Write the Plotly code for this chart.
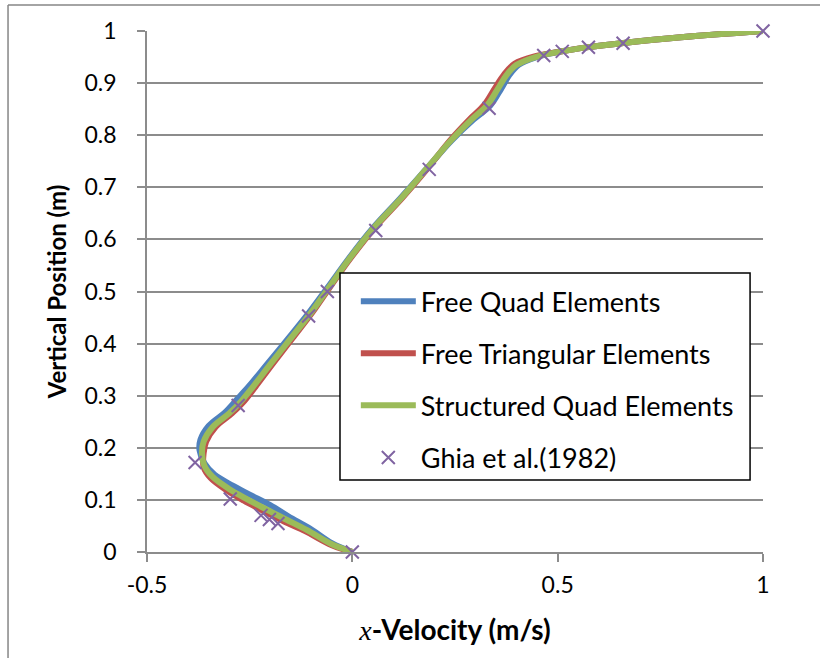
import plotly.graph_objects as go

# Vertical-centreline x-velocity profiles (lid-driven cavity)
free_quad_u = [0.0, -0.05, -0.105, -0.155, -0.20, -0.25, -0.29, -0.335, -0.36, -0.372,
               -0.37, -0.35, -0.31, -0.282, -0.252, -0.208, -0.156, -0.105, -0.058, -0.012,
               0.048, 0.118, 0.18, 0.242, 0.295, 0.336, 0.363, 0.382, 0.405, 0.452,
               0.51, 0.575, 0.66, 0.80, 1.0]
free_quad_y = [0.0, 0.017, 0.046, 0.068, 0.090, 0.110, 0.127, 0.148, 0.17, 0.195,
               0.215, 0.242, 0.268, 0.292, 0.318, 0.36, 0.41, 0.46, 0.51, 0.56,
               0.62, 0.68, 0.735, 0.79, 0.83, 0.857, 0.89, 0.915, 0.935, 0.951,
               0.961, 0.969, 0.977, 0.988, 1.0]

free_tri_u = [0.0, -0.05, -0.115, -0.165, -0.215, -0.265, -0.305, -0.345, -0.362, -0.362,
              -0.356, -0.333, -0.293, -0.263, -0.236, -0.195, -0.146, -0.097, -0.053, -0.008,
              0.052, 0.122, 0.182, 0.238, 0.285, 0.32, 0.347, 0.368, 0.395, 0.448,
              0.51, 0.575, 0.66, 0.80, 1.0]
free_tri_y = [0.0, 0.013, 0.040, 0.058, 0.078, 0.099, 0.118, 0.142, 0.163, 0.19,
              0.212, 0.24, 0.266, 0.29, 0.317, 0.36, 0.41, 0.46, 0.51, 0.56,
              0.62, 0.68, 0.735, 0.79, 0.83, 0.857, 0.89, 0.915, 0.937, 0.952,
              0.961, 0.969, 0.977, 0.988, 1.0]

struct_quad_u = [0.0, -0.05, -0.11, -0.16, -0.21, -0.26, -0.30, -0.34, -0.36, -0.366,
                 -0.362, -0.34, -0.30, -0.27, -0.242, -0.20, -0.15, -0.10, -0.055, -0.01,
                 0.05, 0.12, 0.18, 0.24, 0.29, 0.328, 0.355, 0.375, 0.40, 0.45,
                 0.51, 0.575, 0.66, 0.80, 1.0]
struct_quad_y = [0.0, 0.015, 0.042, 0.062, 0.082, 0.103, 0.121, 0.144, 0.165, 0.19,
                 0.212, 0.24, 0.266, 0.29, 0.317, 0.36, 0.41, 0.46, 0.51, 0.56,
                 0.62, 0.68, 0.735, 0.79, 0.83, 0.857, 0.89, 0.915, 0.935, 0.951,
                 0.961, 0.969, 0.977, 0.988, 1.0]

# Ghia, Ghia & Shin (1982) benchmark points
ghia_u = [1.0, 0.65928, 0.57492, 0.51117, 0.46604, 0.33304, 0.18719, 0.05702, -0.06080,
          -0.10648, -0.27805, -0.38289, -0.29730, -0.22220, -0.20196, -0.18109, 0.0]
ghia_y = [1.0, 0.9766, 0.9688, 0.9609, 0.9531, 0.8516, 0.7344, 0.6172, 0.5000,
          0.4531, 0.2813, 0.1719, 0.1016, 0.0703, 0.0625, 0.0547, 0.0]

x_ticks = [-0.5, 0, 0.5, 1]
y_ticks = [0, 0.1, 0.2, 0.3, 0.4, 0.5, 0.6, 0.7, 0.8, 0.9, 1]

FONT = "Lato"
GRID = "#8c8c8c"

fig = go.Figure()

series = [
    ("Free Quad Elements", free_quad_u, free_quad_y, "#4F81BD"),
    ("Free Triangular Elements", free_tri_u, free_tri_y, "#C0504D"),
    ("Structured Quad Elements", struct_quad_u, struct_quad_y, "#9BBB59"),
]
for name, u, y, color in series:
    fig.add_trace(go.Scatter(
        x=u, y=y, mode="lines", name=name, legendgroup=name,
        line=dict(color=color, width=6, shape="spline", smoothing=1.0),
    ))

fig.add_trace(go.Scatter(
    x=ghia_u, y=ghia_y, mode="markers", name="Ghia et al.(1982)", legendgroup="ghia",
    marker=dict(symbol="x-thin", size=13, line=dict(color="#8064A2", width=2)),
    cliponaxis=False,
))

# Outer chart frame (left and top edges)
fig.add_shape(type="line", xref="paper", yref="paper", x0=-0.2256, x1=-0.2256,
              y0=-0.21, y1=1.0499, line=dict(color="#868686", width=1.5))
fig.add_shape(type="line", xref="paper", yref="paper", x0=-0.2256, x1=1.1,
              y0=1.0499, y1=1.0499, line=dict(color="#868686", width=1.5))

# Legend frame
fig.add_shape(type="rect", xref="paper", yref="paper", layer="above",
              x0=0.3133, x1=0.979, y0=0.1382, y1=0.5355,
              fillcolor="white", line=dict(color="black", width=1.5))

fig.update_layout(
    width=820, height=658,
    margin=dict(l=147, r=57, t=31, b=106),
    paper_bgcolor="white", plot_bgcolor="white",
    font=dict(family=FONT, color="black"),
    showlegend=True,
    legend=dict(
        x=0.339, y=0.5276, xanchor="left", yanchor="top",
        bgcolor="rgba(0,0,0,0)", borderwidth=0,
        font=dict(family=FONT, size=27, color="black"),
        tracegroupgap=14, itemwidth=55,
    ),
    xaxis=dict(
        range=[-0.5, 1], tickvals=x_ticks, ticktext=["-0.5", "0", "0.5", "1"],
        showgrid=False, zeroline=False,
        showline=True, linecolor=GRID, linewidth=1.5,
        ticks="outside", ticklen=8, tickcolor=GRID, tickwidth=1.5,
        ticklabelstandoff=4,
        tickfont=dict(family=FONT, size=23, color="black"),
        title=dict(text="<i style='font-family:Liberation Serif'>x</i><b>-Velocity (m/s)</b>",
                   font=dict(family=FONT, size=28, color="black"), standoff=23),
    ),
    yaxis=dict(
        range=[0, 1], tickvals=y_ticks, ticktext=[str(v) for v in y_ticks],
        showgrid=True, gridcolor=GRID, gridwidth=1.5, zeroline=False,
        showline=True, linecolor=GRID, linewidth=1.5,
        ticks="outside", ticklen=8, tickcolor=GRID, tickwidth=1.5,
        ticklabelstandoff=16,
        tickfont=dict(family=FONT, size=23, color="black"),
        title=dict(text="<b>Vertical Position (m)</b>",
                   font=dict(family=FONT, size=24, color="black"), standoff=11),
    ),
)

fig.write_html("out.html")
